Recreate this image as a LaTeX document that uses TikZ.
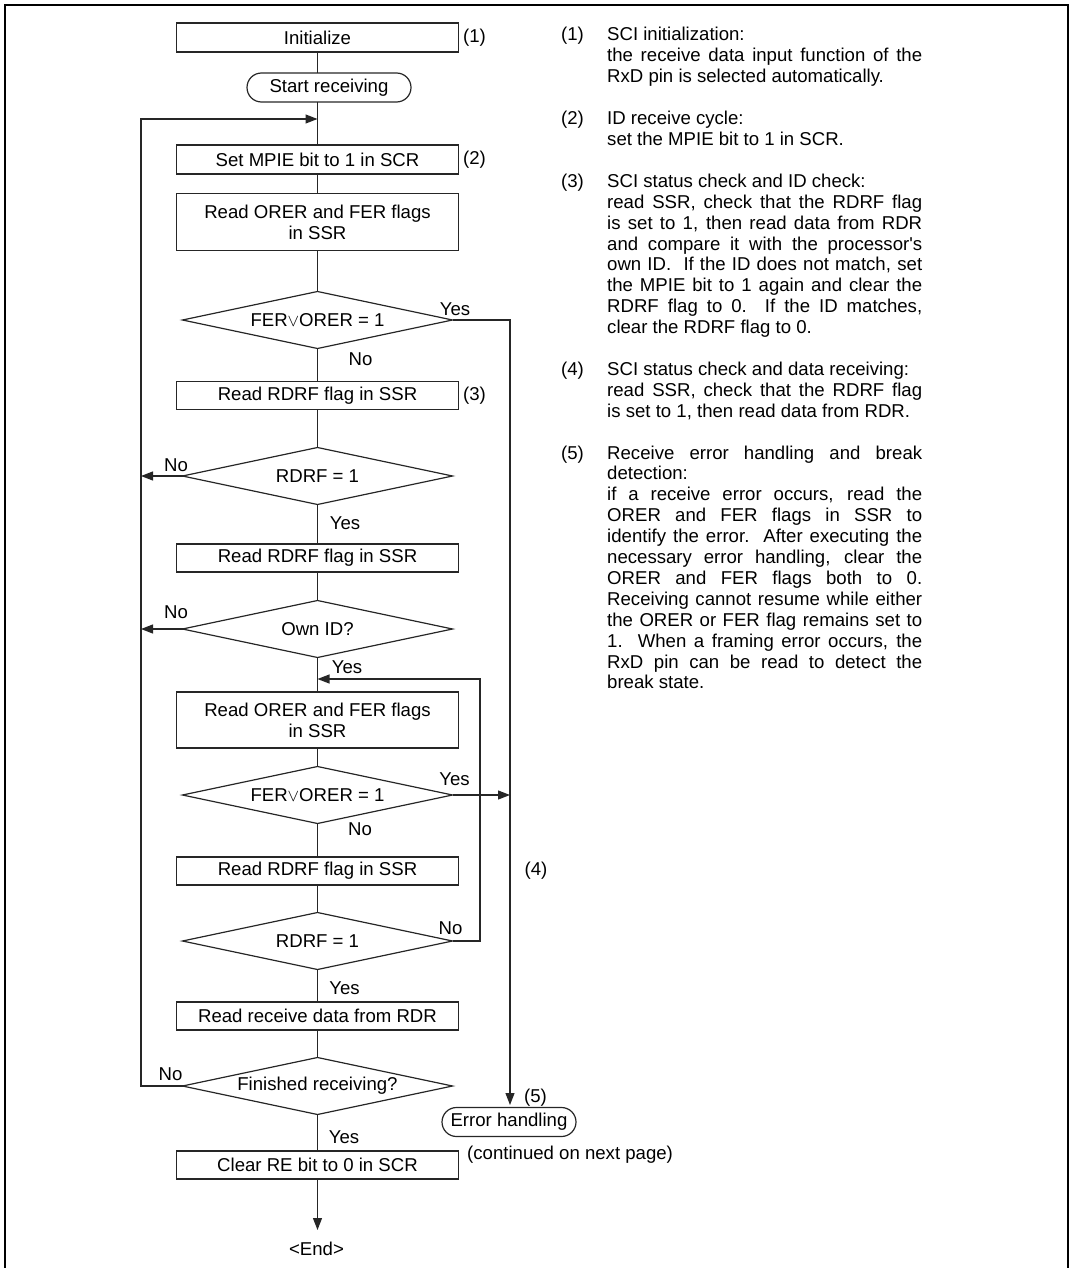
\documentclass[tikz,border=0pt]{standalone}
\usepackage{fontspec}
\setmainfont{Liberation Sans}
\usetikzlibrary{shapes.geometric,arrows.meta}
\newcommand\ff{\fontsize{18.6pt}{20.9pt}\selectfont}
\newcommand\jl[1]{\makebox[315pt][s]{#1}\par}
\begin{document}
\begin{tikzpicture}[x=1pt,y=-1pt,
  ln/.style={draw=black!85, line width=1.2pt},
  arr/.style={ln, -{Triangle[length=12pt,width=9pt]}},
  proc/.style={ln, rectangle, minimum width=282pt, minimum height=28pt, inner sep=0pt, outer sep=0pt, align=center, font=\ff},
  dec/.style={ln, diamond, aspect=4.74, minimum width=270pt, minimum height=57pt, inner sep=0pt, outer sep=0pt, font=\ff},
  term/.style={ln, rectangle, rounded corners=14.5pt, minimum height=29pt, inner sep=0pt, outer sep=0pt, font=\ff},
  lbl/.style={inner sep=0pt, font=\ff},
  note/.style={inner sep=0pt, font=\ff, anchor=base west},
]
\useasboundingbox (0,0) rectangle (1074,1268);
\draw[line width=2.6pt, black] (5,1268) -- (5,5) -- (1068,5) -- (1068,1268);

% main column
\node[proc, minimum height=29pt] (init) at (317.5,37.5) {Initialize};
\node[lbl] (l1) at (474.5,37.5) {(1)};
\node[term, minimum width=164pt] (start) at (329,87.5) {Start receiving\hspace{15.5pt}};
\coordinate (loopA) at (317.5,119);
\coordinate (railL) at (141,119);
\node[proc, minimum height=29pt] (setm) at (317.5,159.5) {Set MPIE bit to 1 in SCR};
\node[lbl] (l2) at (474.5,159.5) {(2)};
\node[proc, minimum height=57pt] (orer1) at (317.5,222) {Read ORER and FER flags\\in SSR};
\node[dec] (d1) at (317.5,320) {FER$\vee$ORER = 1};
\node[lbl] (d1y) at (455,309) {Yes};
\node[lbl] (d1n) at (360.5,359) {No};
\node[proc] (rdrf1) at (317.5,395.5) {Read RDRF flag in SSR};
\node[lbl] (l3) at (474.5,396) {(3)};
\node[dec] (d2) at (317.5,476) {RDRF = 1};
\node[lbl] (d2n) at (176,465) {No};
\node[lbl] (d2y) at (345,523) {Yes};
\node[proc] (rdrf2) at (317.5,558) {Read RDRF flag in SSR};
\node[dec] (own) at (317.5,629) {Own ID?};
\node[lbl] (ownn) at (176,612) {No};
\node[lbl] (owny) at (347,667) {Yes};
\coordinate (loopB) at (317.5,679);
\coordinate (railR) at (480,679);
\node[proc, minimum height=56pt] (orer2) at (317.5,720) {Read ORER and FER flags\\in SSR};
\node[dec] (d3) at (317.5,795) {FER$\vee$ORER = 1};
\node[lbl] (d3y) at (454.5,779) {Yes};
\node[lbl] (d3n) at (360,829) {No};
\node[proc] (rdrf3) at (317.5,871) {Read RDRF flag in SSR};
\node[lbl] (l4) at (536,871) {(4)};
\node[dec] (d4) at (317.5,941) {RDRF = 1};
\node[lbl] (d4n) at (450.5,928) {No};
\node[lbl] (d4y) at (344.5,988) {Yes};
\node[proc] (rdata) at (317.5,1016) {Read receive data from RDR};
\node[dec] (fin) at (317.5,1086) {Finished receiving?};
\node[lbl] (finn) at (170.5,1074) {No};
\node[lbl] (finy) at (344,1137) {Yes};
\node[proc] (clear) at (317.5,1165) {Clear RE bit to 0 in SCR};
\coordinate (endtip) at (317.5,1230);
\node[lbl] (endn) at (316.5,1249) {<End>};

% error branch
\coordinate (errtip) at (510,1105);
\node[lbl] (l5) at (535.5,1098) {(5)};
\node[term, minimum width=134pt] (err) at (509,1122) {Error handling};
\node[lbl, anchor=west] (cont) at (467,1155) {(continued on next page)};

% connectors
\draw[ln] (init) -- (init |- start.north);
\draw[ln] (init |- start.south) -- (setm);
\draw[ln] (setm) -- (orer1);
\draw[ln] (orer1) -- (d1);
\draw[ln] (d1) -- (rdrf1);
\draw[ln] (rdrf1) -- (d2);
\draw[ln] (d2) -- (rdrf2);
\draw[ln] (rdrf2) -- (own);
\draw[ln] (own) -- (orer2);
\draw[ln] (orer2) -- (d3);
\draw[ln] (d3) -- (rdrf3);
\draw[ln] (rdrf3) -- (d4);
\draw[ln] (d4) -- (rdata);
\draw[ln] (rdata) -- (fin);
\draw[ln] (fin) -- (clear);
\draw[arr] (clear) -- (endtip);
\draw[arr] (fin.west) -| (railL) -- (loopA);
\draw[arr] (d2.west) -- (d2.west -| railL);
\draw[arr] (own.west) -- (own.west -| railL);
\draw[arr] (d1.east) -- (d1.east -| errtip) -- (errtip);
\draw[arr] (d3.east) -- (d3.east -| errtip);
\draw[arr] (d4.east) -| (railR) -- (loopB);

% notes
\node[note] (n1) at (561,41) {(1)};
\node[note] (p1) at (607,41) {\parbox[t]{315pt}{SCI initialization:\par
\jl{the receive data input function of the}
RxD pin is selected automatically.}};
\node[note] (n2) at (561,124.6) {(2)};
\node[note] (p2) at (607,124.6) {\parbox[t]{315pt}{ID receive cycle:\par
set the MPIE bit to 1 in SCR.}};
\node[note] (n3) at (561,187.3) {(3)};
\node[note] (p3) at (607,187.3) {\parbox[t]{315pt}{SCI status check and ID check:\par
\jl{read SSR, check that the RDRF flag}
\jl{is set to 1, then read data from RDR}
\jl{and compare it with the processor\textquotesingle s}
\jl{own ID.\ \ If the ID does not match, set}
\jl{the MPIE bit to 1 again and clear the}
\jl{RDRF flag to 0.\ \ If the ID matches,}
clear the RDRF flag to 0.}};
\node[note] (n4) at (561,375.4) {(4)};
\node[note] (p4) at (607,375.4) {\parbox[t]{315pt}{SCI status check and data receiving:\par
\jl{read SSR, check that the RDRF flag}
is set to 1, then read data from RDR.}};
\node[note] (n5) at (561,459) {(5)};
\node[note] (p5) at (607,459) {\parbox[t]{315pt}{\jl{Receive error handling and break}
detection:\par
\jl{if a receive error occurs, read the}
\jl{ORER and FER flags in SSR to}
\jl{identify the error.\ \ After executing the}
\jl{necessary error handling, clear the}
\jl{ORER and FER flags both to 0.}
\jl{Receiving cannot resume while either}
\jl{the ORER or FER flag remains set to}
\jl{1.\ \ When a framing error occurs, the}
\jl{RxD pin can be read to detect the}
break state.}};
\end{tikzpicture}
\end{document}
